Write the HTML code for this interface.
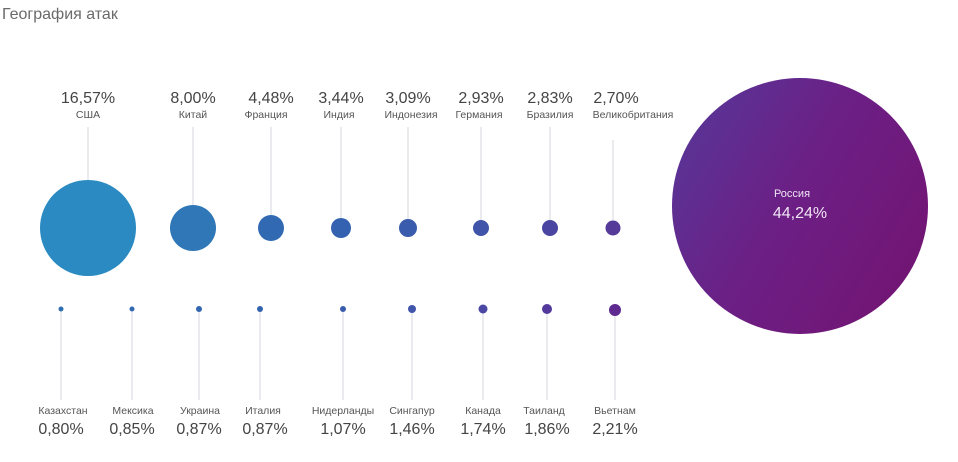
<!DOCTYPE html>
<html><head><meta charset="utf-8"><style>
body{margin:0;background:#fff;width:958px;height:457px;overflow:hidden;font-family:"Liberation Sans","DejaVu Sans",sans-serif;}
</style></head><body>
<svg width="958" height="457" xmlns="http://www.w3.org/2000/svg" font-family="Liberation Sans, DejaVu Sans, sans-serif">
<defs>
<linearGradient id="ru" x1="0" y1="0" x2="1" y2="0.6">
<stop offset="0" stop-color="#55399a"/><stop offset="0.55" stop-color="#6c1f85"/><stop offset="1" stop-color="#721676"/>
</linearGradient>
</defs>
<text x="2" y="19" font-size="16" fill="#6a6a6a">География атак</text>
<g stroke="#e2e4e8" stroke-width="1.5">
<line x1="88" y1="127" x2="88" y2="180"/>
<line x1="193" y1="127" x2="193" y2="205"/>
<line x1="271" y1="127" x2="271" y2="215"/>
<line x1="341" y1="127" x2="341" y2="218"/>
<line x1="408" y1="127" x2="408" y2="219"/>
<line x1="481" y1="127" x2="481" y2="220"/>
<line x1="550" y1="127" x2="550" y2="220"/>
<line x1="613" y1="140" x2="613" y2="220"/>
<line x1="61" y1="309" x2="61" y2="400"/>
<line x1="132" y1="309" x2="132" y2="400"/>
<line x1="199" y1="309" x2="199" y2="400"/>
<line x1="260" y1="309" x2="260" y2="400"/>
<line x1="343" y1="309" x2="343" y2="400"/>
<line x1="412" y1="309" x2="412" y2="400"/>
<line x1="483" y1="309" x2="483" y2="400"/>
<line x1="547" y1="309" x2="547" y2="400"/>
<line x1="615" y1="309" x2="615" y2="400"/>
</g>
<circle cx="88" cy="228" r="48" fill="#2b8ac2"/>
<circle cx="193" cy="228" r="23" fill="#2f77b6"/>
<circle cx="271" cy="228" r="13" fill="#3169b2"/>
<circle cx="341" cy="228" r="10" fill="#3462b0"/>
<circle cx="408" cy="228" r="9" fill="#395cad"/>
<circle cx="481" cy="228" r="8" fill="#4055aa"/>
<circle cx="550" cy="228" r="8" fill="#4a45a0"/>
<circle cx="613" cy="228" r="7.5" fill="#553a99"/>
<circle cx="61" cy="309" r="2.5" fill="#2f6fb0"/>
<circle cx="132" cy="309" r="2.5" fill="#3069b0"/>
<circle cx="199" cy="309" r="3" fill="#3266b0"/>
<circle cx="260" cy="309" r="3" fill="#3463ae"/>
<circle cx="343" cy="309" r="3" fill="#3a5cad"/>
<circle cx="412" cy="309" r="4" fill="#4155aa"/>
<circle cx="483" cy="309" r="4.5" fill="#4a48a3"/>
<circle cx="547" cy="309" r="5" fill="#53399b"/>
<circle cx="615" cy="310" r="6" fill="#5e2a90"/>
<circle cx="800" cy="206" r="128" fill="url(#ru)"/>
<text x="800" y="197" font-size="11" fill="#f0e6f4" text-anchor="middle" dx="-8">Россия</text>
<text x="800" y="218" font-size="16" fill="#f0e6f4" text-anchor="middle">44,24%</text>
<g font-size="16" fill="#444" text-anchor="middle">
<text x="88" y="103">16,57%</text>
<text x="193" y="103">8,00%</text>
<text x="271" y="103">4,48%</text>
<text x="341" y="103">3,44%</text>
<text x="408" y="103">3,09%</text>
<text x="481" y="103">2,93%</text>
<text x="550" y="103">2,83%</text>
<text x="616" y="103">2,70%</text>
<text x="61" y="434">0,80%</text>
<text x="132" y="434">0,85%</text>
<text x="199" y="434">0,87%</text>
<text x="265" y="434">0,87%</text>
<text x="343" y="434">1,07%</text>
<text x="412" y="434">1,46%</text>
<text x="483" y="434">1,74%</text>
<text x="547" y="434">1,86%</text>
<text x="615" y="434">2,21%</text>
</g>
<g font-size="10.5" fill="#555" text-anchor="middle">
<text x="88" y="118">США</text>
<text x="193" y="118">Китай</text>
<text x="266" y="118">Франция</text>
<text x="339" y="118">Индия</text>
<text x="411" y="118">Индонезия</text>
<text x="479" y="118">Германия</text>
<text x="550" y="118">Бразилия</text>
<text x="633" y="118">Великобритания</text>
<text x="63" y="414">Казахстан</text>
<text x="133" y="414">Мексика</text>
<text x="200" y="414">Украина</text>
<text x="263" y="414">Италия</text>
<text x="343" y="414">Нидерланды</text>
<text x="412" y="414">Сингапур</text>
<text x="483" y="414">Канада</text>
<text x="544" y="414">Таиланд</text>
<text x="615" y="414">Вьетнам</text>
</g>
</svg>
</body></html>
